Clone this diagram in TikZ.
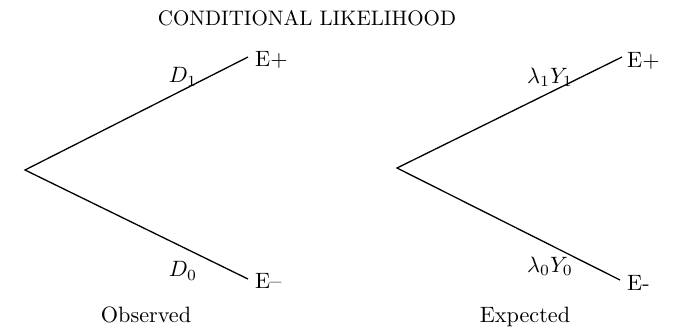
\documentclass[tikz,border=0pt]{standalone}
\newcommand{\bigtxt}[1]{\scalebox{2.22}{#1}}
\newcommand{\ttltxt}[1]{\scalebox{2.1}{#1}}
\begin{document}
\begin{tikzpicture}[x=1pt,y=-1pt,
  branch/.style={line width=1.3pt},
  lbl/.style={inner sep=0pt}]
\useasboundingbox (0,0) rectangle (675,330);
\node[lbl] (title) at (307,18) {\ttltxt{CONDITIONAL LIKELIHOOD}};
% left tree
\coordinate (oa) at (25,170);
\coordinate (ou) at (248,57);
\coordinate (ol) at (248,279);
\draw[branch] (ou) -- (oa) -- (ol);
\node[lbl,anchor=west] (oep) at (255,60) {\bigtxt{E+}};
\node[lbl,anchor=west] (oem) at (255,281) {\bigtxt{E--}};
\node[lbl] (d1) at (183,77) {\bigtxt{$D_1$}};
\node[lbl] (d0) at (183,271) {\bigtxt{$D_0$}};
\node[lbl] (obs) at (146,315) {\bigtxt{Observed}};
% right tree
\coordinate (ea) at (397,168);
\coordinate (eu) at (622,57);
\coordinate (el) at (620,280);
\draw[branch] (eu) -- (ea) -- (el);
\node[lbl,anchor=west] (eep) at (627,61) {\bigtxt{E+}};
\node[lbl,anchor=west] (eem) at (627,283) {\bigtxt{E-}};
\node[lbl] (l1) at (550,77) {\bigtxt{$\lambda_1Y_1$}};
\node[lbl] (l0) at (550,266) {\bigtxt{$\lambda_0Y_0$}};
\node[lbl] (exp) at (525,317) {\bigtxt{Expected}};
\end{tikzpicture}
\end{document}
